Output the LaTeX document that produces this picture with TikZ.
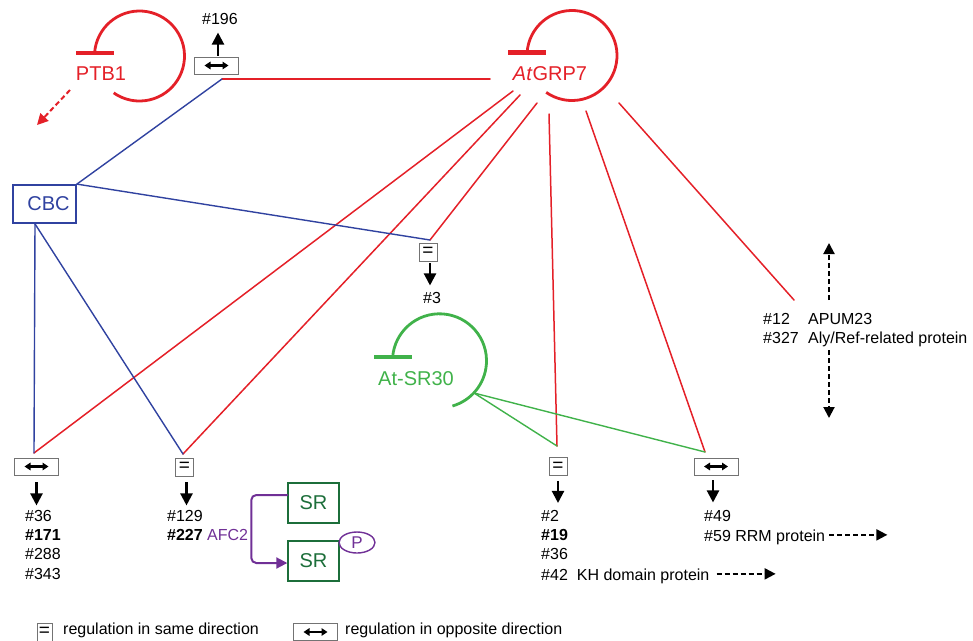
\documentclass[tikz,border=0pt]{standalone}
\usepackage{fontspec}
\setmainfont{Liberation Sans}
\usepackage{xcolor}
\definecolor{myred}{RGB}{228,32,40}
\definecolor{myblue}{RGB}{48,66,160}
\definecolor{mygreen}{RGB}{64,178,74}
\definecolor{srgreen}{RGB}{28,110,58}
\definecolor{mypurple}{RGB}{112,48,150}
\usepackage{tikz}
\usetikzlibrary{calc,arrows.meta,shapes.geometric}

\begin{document}
\begin{tikzpicture}[x=1pt,y=1pt,line cap=round]
	\tikzstyle{lbl}=[font=\fontsize{16}{19.3}\selectfont,inner sep=0pt,align=left];
	\tikzstyle{big}=[font=\fontsize{20}{24}\selectfont,inner sep=0pt];
	\tikzstyle{eqbox}=[draw=black!55,line width=.9pt,inner sep=0pt,minimum width=18pt,minimum height=18pt,font=\fontsize{19}{19}\selectfont];
	\tikzstyle{oppbox}=[draw=black!55,line width=.9pt,inner sep=0pt,minimum width=44pt,minimum height=17pt,path picture={\draw[black,line width=2.4pt,line cap=butt,{Triangle[length=6pt,width=7.5pt]}-{Triangle[length=6pt,width=7.5pt]}] ([xshift=-12pt]path picture bounding box.center) -- ([xshift=12pt]path picture bounding box.center);}];
	\tikzstyle{loopln}=[line width=2.8pt,line cap=butt];
	\tikzstyle{barln}=[line width=4.5pt,line cap=butt];
	\tikzstyle{redln}=[myred,line width=1.5pt];
	\tikzstyle{blueln}=[myblue,line width=1.4pt];
	\tikzstyle{greenln}=[mygreen,line width=1.4pt];
	\tikzstyle{blk}=[-{Triangle[length=12pt,width=12pt]},line width=2.2pt,line cap=butt];
	\tikzstyle{dasharr}=[-{Triangle[length=11pt,width=11pt]},line width=2pt,line cap=butt,dash pattern=on 5pt off 3pt];
	\tikzstyle{srbox}=[draw=srgreen,line width=1.4pt,text=srgreen,minimum width=51pt,minimum height=40pt,font=\fontsize{20}{24}\selectfont];
	\useasboundingbox (0,0) rectangle (973,-640);
	\draw[loopln,myred] (139.5,-56) ++(176:45) arc[start angle=176,end angle=-125,radius=45];
	\draw[barln,myred] (76,-53) -- (114,-53);
	\draw[loopln,myred] (572,-55.5) ++(176:45) arc[start angle=176,end angle=-125,radius=45];
	\draw[barln,myred] (508,-52.5) -- (546,-52.5);
	\draw[loopln,mygreen] (439.5,-360.8) ++(176:47) arc[start angle=176,end angle=-74,radius=47];
	\draw[barln,mygreen] (374,-357) -- (412,-357);
	\node[big,text=myred] (ptb) at (101,-74) {PTB1};
	\node[big,text=myred] (grp) at (550,-74) {\textit{At}GRP7};
	\node[big,text=myblue,draw=myblue,line width=1.8pt,minimum width=63pt,minimum height=38pt] (cbc) at (44.5,-204) {\hspace{8pt}CBC};
	\node[big,text=mygreen] (sr30) at (416,-379) {At-SR30};
	\node[oppbox] (bx196) at (216.5,-65.5) {};
	\node[eqbox] (bx3) at (428,-252) {=};
	\node[oppbox] (bxA) at (36.5,-466.5) {};
	\node[eqbox] (bxB) at (184.5,-467) {=};
	\node[eqbox] (bxC) at (558,-466.5) {=};
	\node[oppbox] (bxD) at (716,-466.5) {};
	\coordinate (j196) at (222,-79);
	\coordinate (j3) at (430,-240);
	\coordinate (jA) at (34,-453);
	\coordinate (jB) at (183,-454);
	\coordinate (jC) at (557,-446);
	\coordinate (jD) at (705,-452);
	\coordinate (jR) at (794,-300);
	\coordinate (g0) at (490,-79);
	\coordinate (g1) at (513,-91);
	\coordinate (g2) at (520,-95);
	\coordinate (g3) at (537,-103);
	\coordinate (g4) at (549,-114);
	\coordinate (g5) at (586,-111);
	\coordinate (g6) at (619,-103);
	\coordinate (s0) at (474,-393);
	\draw[redln] (j196) -- (g0);
	\draw[redln] (g1) -- (jA);
	\draw[redln] (g2) -- (jB);
	\draw[redln] (g3) -- (j3);
	\draw[redln] (g4) -- (jC);
	\draw[redln] (g5) -- (jD);
	\draw[redln] (g6) -- (jR);
	\draw[blueln] (cbc.north east) -- (j196);
	\draw[blueln] (cbc.north east) -- (j3);
	\draw[blueln] ([xshift=-9.5pt]cbc.south) -- (jA);
	\draw[blueln] ([xshift=-9.5pt]cbc.south) -- (jB);
	\draw[greenln] (s0) -- (jC);
	\draw[greenln] (s0) -- (jD);
	\node[lbl] (n196) at (220,-19) {\#196};
	\node[lbl] (n3) at (432,-298) {\#3};
	\node[lbl,anchor=north west] (lstA) at (25,-510) {\#36\\\textbf{\#171}\\\#288\\\#343};
	\node[lbl,anchor=north west] (lstB) at (167,-510) {\#129\\\textbf{\#227} \textcolor{mypurple}{AFC2}};
	\node[lbl,anchor=north west] (lstC) at (541,-510) {\#2\\\textbf{\#19}\\\#36};
	\node[lbl,anchor=base west] (kh) at (541,-580) {\#42\hspace{9pt}KH domain protein};
	\node[lbl,anchor=north west] (lstD) at (704,-510) {\#49};
	\node[lbl,anchor=base west] (rrm) at (704,-541) {\#59 RRM protein};
	\node[lbl,anchor=north west] (lstR) at (763,-313) {\makebox[45pt][l]{\#12}APUM23\\\makebox[45pt][l]{\#327}Aly/Ref-related protein};
	\draw[blk] ([xshift=1.5pt,yshift=1pt]bx196.north) -- ([xshift=1.5pt,yshift=24pt]bx196.north);
	\draw[blk] ([xshift=2pt,yshift=-2pt]bx3.south) -- ([xshift=2pt,yshift=-24pt]bx3.south);
	\draw[blk] ([yshift=-7pt]bxA.south) -- ([yshift=-30pt]bxA.south);
	\draw[blk] ([xshift=2pt,yshift=-6pt]bxB.south) -- ([xshift=2pt,yshift=-29pt]bxB.south);
	\draw[blk] ([yshift=-5pt]bxC.south) -- ([yshift=-27pt]bxC.south);
	\draw[blk] ([xshift=-3pt,yshift=-5pt]bxD.south) -- ([xshift=-3pt,yshift=-27pt]bxD.south);
	\coordinate (khE) at ([xshift=66pt,yshift=2pt]kh.east);
	\coordinate (rrmE) at ([xshift=62pt,yshift=2pt]rrm.east);
	\coordinate (upT) at (829,-243);
	\coordinate (dnT) at (829,-418);
	\coordinate (ptbE) at (37,-125);
	\draw[dasharr] ([xshift=7pt,yshift=2pt]kh.east) -- (khE);
	\draw[dasharr] ([xshift=4pt,yshift=2pt]rrm.east) -- (rrmE);
	\draw[dasharr] ([yshift=13pt]lstR.north -| upT) -- (upT);
	\draw[dasharr] ([yshift=-3pt]lstR.south -| dnT) -- (dnT);
	\draw[dasharr,myred] ([shift={(-31pt,-16pt)}]ptb.center) -- (ptbE);
	\node[srbox] (sr1) at (313.5,-503) {SR};
	\node[srbox] (sr2) at (313.5,-561) {SR};
	\node[ellipse,draw=mypurple,line width=1.4pt,text=mypurple,minimum width=36pt,minimum height=21pt,inner sep=0pt,font=\fontsize{17}{20}\selectfont] (phos) at (357,-542.5) {P};
	\draw[mypurple,line width=2pt,rounded corners=5pt,-{Triangle[length=11pt,width=11pt]}] ([yshift=8pt]sr1.west) -- ++(-36,0) |- ([yshift=-2pt]sr2.west);
	\node[eqbox,minimum width=15pt] (legEq) at (44.5,-632) {=};
	\node[lbl,anchor=base west] (legEqT) at (63,-634) {regulation in same direction};
	\node[oppbox] (legOpp) at (315.5,-632) {};
	\node[lbl,anchor=base west] (legOppT) at (345,-634) {regulation in opposite direction};
\end{tikzpicture}
\end{document}
